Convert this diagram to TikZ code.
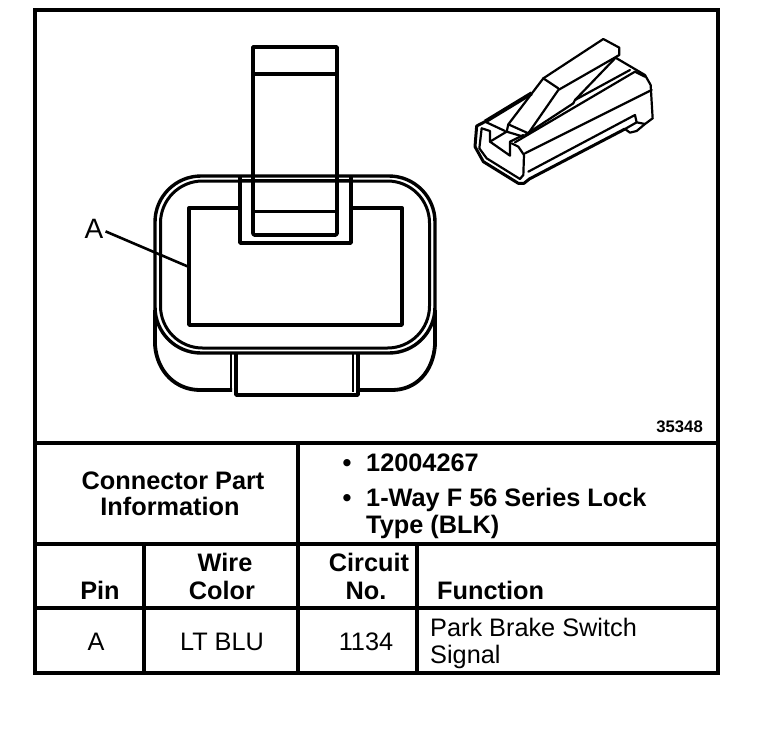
\documentclass[tikz,border=0pt]{standalone}
\usepackage{fontspec}
\setmainfont{Liberation Sans}
\usetikzlibrary{positioning}
\tikzset{
    rule/.style={line width=3.5pt, line cap=rect},
    outline/.style={line width=3.8pt, line join=round},
    thinline/.style={line width=1.8pt, line join=round},
    sketch/.style={line width=2.2pt, line join=round, line cap=round},
    headtext/.style={font=\fontsize{25.3}{25.3}\selectfont\bfseries, inner sep=0pt},
    bodytext/.style={font=\fontsize{25.3}{25.3}\selectfont, inner sep=0pt}
}

\begin{document}
\begin{tikzpicture}[x=1pt, y=-1pt]
        \useasboundingbox (0,0) rectangle (768,740);

        % Table rules
        \draw [rule] (35,10) rectangle (718,673);
        \draw [rule] (35,443) -- (718,443);
        \draw [rule] (35,544) -- (718,544);
        \draw [rule] (35,608) -- (718,608);
        \draw [rule] (298,443) -- (298,673);
        \draw [rule] (144,544) -- (144,673);
        \draw [rule] (417,544) -- (417,673);

        % Lower body
        \draw [outline] (155,310) -- (155,345) .. controls (157,372) and (176,390) .. (200,390) -- (232,390);
        \draw [outline] (358,390) -- (392,390) .. controls (416,390) and (433,372) .. (435,345) -- (435,310);

        % Shell
        \draw [line width=3.4pt, rounded corners=46pt] (155,176) rectangle (435,353);
        \draw [line width=3pt, rounded corners=42pt] (160.5,181) rectangle (429.5,348);

        % Bottom latch
        \draw [outline] (236,352) -- (236,395) -- (358,395) -- (358,352);
        \draw [thinline] (231,352) -- (231,390);
        \draw [thinline] (353,352) -- (353,392);

        % Cavity
        \draw [line width=3.4pt, line join=round] (240,208) -- (189,208) -- (189,325) -- (402,325) -- (402,208) -- (351,208);

        % Notch
        \draw [outline] (240,176) -- (240,243) -- (351,243) -- (351,176);
        \draw [line width=3pt] (240,180) -- (351,180);

        % Tab
        \draw [outline] (253,180) -- (253,47) -- (337,47) -- (337,180);
        \draw [outline, rounded corners=2pt] (253,180) -- (253,235) -- (337,235) -- (337,180);
        \draw [outline] (253,74) -- (337,74);
        \draw [line width=3pt] (253,211) -- (337,211);

        % Pin label
        \node (pinlabel) [anchor=base, font=\fontsize{28}{28}\selectfont, inner sep=0pt] at (94,238) {A};
        \coordinate (pincavity) at (189,267);
        \draw [line width=2.6pt] (pinlabel.east) ++(2,3) -- (pincavity);

        % Small view of the connector
        \begin{scope}[shift={(460,25)}, x=0.3333pt, y=-0.3333pt]
            % Latch
            \draw [sketch] (430,42) -- (478,68) -- (478,90) -- (295,195) -- (205,325) -- (145,298) -- (250,160) -- cycle;
            \draw [sketch] (250,160) -- (295,190);
            \draw [sketch] (345,225) -- (470,95);
            \draw [sketch] (345,225) -- (510,135);
            \draw [sketch] (345,225) -- (340,235);
            % Top of the housing
            \draw [sketch] (470,100) -- (555,150) -- (572,180) -- (578,280) -- (555,297);
            \draw [sketch] (165,352) -- (525,140) -- (555,155);
            \draw [sketch] (195,385) -- (575,195);
            \draw [sketch] (195,330) -- (340,235);
            \draw [line width=4pt] (75,290) -- (215,205);
            % Front
            \draw [line width=3pt, line join=round] (75,290) -- (50,303) -- (45,365) -- (70,410) -- (175,475) -- (192,475) -- (208,462) -- (495,312);
            \draw [sketch] (65,310) -- (58,370) -- (80,400) -- (180,462) -- (190,450) -- (192,390) -- (175,365) -- (155,355);
            \draw [sketch] (65,310) -- (90,318) -- (90,350) -- (150,392) -- (150,350) -- (190,330);
            \draw [sketch] (90,350) -- (140,320);
            \draw [sketch] (145,298) -- (140,320) -- (190,335);
            \draw [sketch] (75,290) -- (135,318);
            % Lower groove
            \draw [sketch] (205,440) -- (525,270) -- (530,292) -- (495,312);
            \draw [sketch] (530,292) -- (555,297);
            \draw [sketch] (495,312) -- (510,323) -- (530,318) -- (555,297);
        \end{scope}

        % Drawing number
        \node (drawingno) [anchor=base east, font=\fontsize{16.7}{16.7}\selectfont\bfseries, inner sep=0pt] at (703,432) {35348};

        % Part information
        \node (parttitle) [headtext, anchor=base] at (173,489) {Connector Part};
        \node (parttitletwo) [headtext, anchor=base] at (170,515) {Information};
        \node (partnumber) [headtext, anchor=base west] at (366,471) {12004267};
        \node (partbulletone) [headtext, anchor=base] at (347,471) {•};
        \node (parttype) [headtext, anchor=base west] at (366,506) {1-Way F 56 Series Lock};
        \node (partbullettwo) [headtext, anchor=base] at (347,506) {•};
        \node (parttypetwo) [headtext, anchor=base west] at (366,533) {Type (BLK)};

        % Column heads
        \node (headpin) [headtext, anchor=base] at (100,599) {Pin};
        \node (headwire) [headtext, anchor=base] at (225,571) {Wire};
        \node (headcolor) [headtext, anchor=base] at (222,599) {Color};
        \node (headcircuit) [headtext, anchor=base] at (369,571) {Circuit};
        \node (headno) [headtext, anchor=base] at (366,599) {No.};
        \node (headfunction) [headtext, anchor=base west] at (437,599) {Function};

        % Row
        \node (rowpin) [bodytext, anchor=base] at (96,650) {A};
        \node (rowcolor) [bodytext, anchor=base] at (222,650) {LT BLU};
        \node (rowcircuit) [bodytext, anchor=base] at (366,650) {1134};
        \node (rowfunction) [bodytext, anchor=base west] at (430,636) {Park Brake Switch};
        \node (rowfunctiontwo) [bodytext, anchor=base west] at (430,663) {Signal};
\end{tikzpicture}
\end{document}
